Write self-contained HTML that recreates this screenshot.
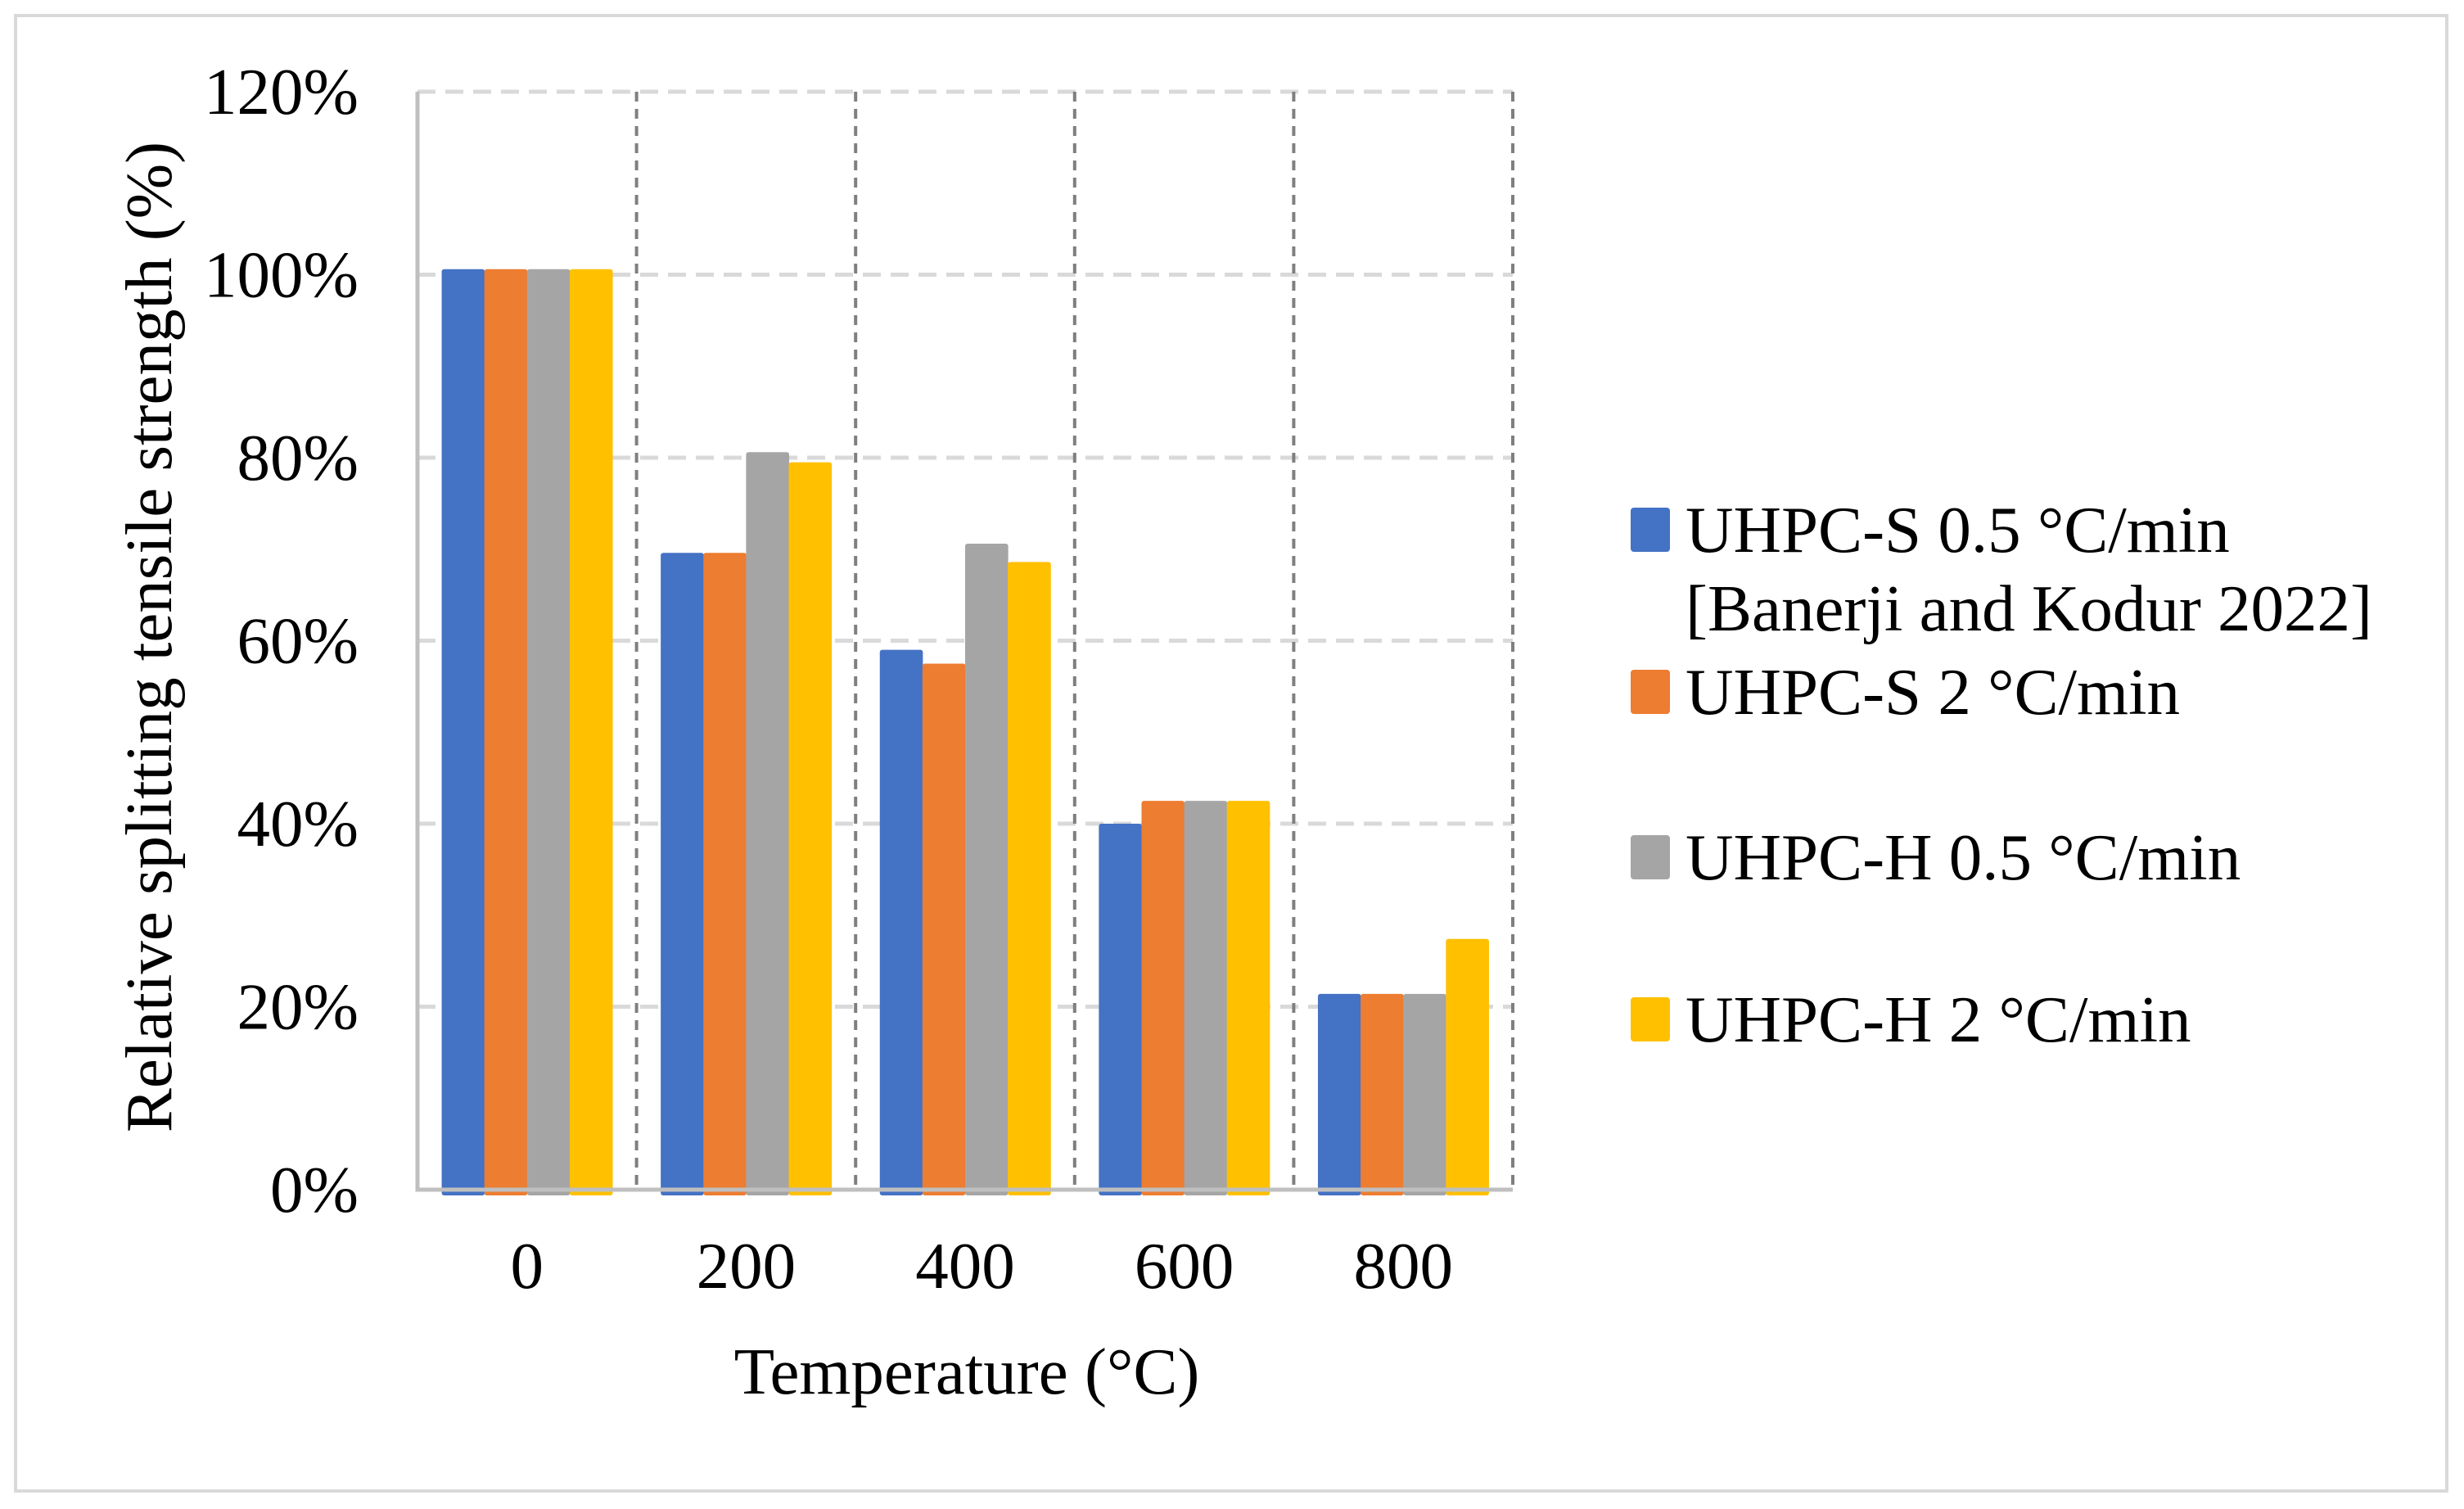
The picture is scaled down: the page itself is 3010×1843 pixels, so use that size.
<!DOCTYPE html>
<html><head><meta charset="utf-8"><style>
html,body{margin:0;padding:0;background:#fff}
svg{display:block}
text{font-family:"Liberation Serif",serif;fill:#000}
</style></head><body>
<svg id="chart" width="3010" height="1843" viewBox="0 0 3010 1843" xmlns="http://www.w3.org/2000/svg">
<rect x="19" y="19" width="2970" height="1802" fill="#fff" stroke="#d9d9d9" stroke-width="4"/>
<g id="grid"></g>
<g id="bars"></g>
<g id="axes"></g>
<text x="182" y="778" font-size="81" text-anchor="middle" dominant-baseline="central" transform="rotate(-90 182 778)">Relative splitting tensile strength (%)</text>
<text x="1181" y="1675" font-size="81" text-anchor="middle" dominant-baseline="central">Temperature (°C)</text>
<g id="legend"></g>
</svg>
<script>
const categories = ["0","200","400","600","800"];
const seriesNames = ["UHPC-S 0.5 °C/min","UHPC-S 2 °C/min","UHPC-H 0.5 °C/min","UHPC-H 2 °C/min"];
const s1 = [100.6,69.6,59.0,40.0,21.4];
const s2 = [100.6,69.6,57.5,42.5,21.4];
const s3 = [100.6,80.6,70.6,42.5,21.4];
const s4 = [100.6,79.5,68.6,42.5,27.4];
const yTicks = [0,20,40,60,80,100,120];
const yTickLabels = ["0%","20%","40%","60%","80%","100%","120%"];

const NS="http://www.w3.org/2000/svg";
const colors=["#4472c4","#ed7d31","#a5a5a5","#ffc000"];
const series=[s1,s2,s3,s4];
const X0=510,X1=1848,Y0=1453,Y1=112,YMAX=120;
const catW=(X1-X0)/categories.length;
const groupW=208.5, barW=groupW/4;
function y(v){return Y0-(v/YMAX)*(Y0-Y1);}
function xCat(i){return X0+i*catW;}
function mk(tag,attrs,parent){const e=document.createElementNS(NS,tag);for(const k in attrs)e.setAttribute(k,attrs[k]);parent.appendChild(e);return e;}
const grid=document.getElementById('grid'),bars=document.getElementById('bars'),axes=document.getElementById('axes'),legend=document.getElementById('legend');

yTicks.forEach((t,i)=>{
  if(t>0){
    const l=mk('line',{x1:X0,x2:X1,y1:y(t),y2:y(t),stroke:'#d9d9d9','stroke-width':5,'stroke-dasharray':'22 12'},grid);
    
    
  }
  const tx=mk('text',{x:438,y:y(t),'font-size':81,'text-anchor':'end','dominant-baseline':'central'},axes);
  tx.textContent=yTickLabels[i];
  
  
});
for(let k=1;k<=categories.length;k++){
  const l=mk('line',{x1:xCat(k),x2:xCat(k),y1:Y1,y2:Y0,stroke:'#7f7f7f','stroke-width':4,'stroke-dasharray':'12 9'},grid);
  
  
}
categories.forEach((c,i)=>{
  const gx=xCat(i)+(catW-groupW)/2;
  series.forEach((s,j)=>{
    const r=mk('rect',{x:gx+j*barW,y:y(s[i]),width:barW+0.5,height:Y0+7-y(s[i]),fill:colors[j],rx:3},bars);
    
    
  });
  const tx=mk('text',{x:xCat(i)+catW/2,y:1546,'font-size':81,'text-anchor':'middle','dominant-baseline':'central'},axes);
  tx.textContent=c;
  
  
});
const ax=mk('path',{d:`M${X0} ${Y1} V${Y0} H${X1}`,fill:'none',stroke:'#bfbfbf','stroke-width':5},axes);



const legY=[647,845,1047,1245];
seriesNames.forEach((n,j)=>{
  const sw=mk('rect',{x:1992,y:legY[j]-27,width:48,height:54,fill:colors[j],rx:4},legend);
  
  
  const t=mk('text',{x:2059,y:legY[j],'font-size':81,'dominant-baseline':'central'},legend);
  t.textContent=n;
  
  
});
const t2=mk('text',{x:2059,y:743,'font-size':81,'dominant-baseline':'central'},legend);
t2.textContent="[Banerji and Kodur 2022]";


</script>
</body></html>
